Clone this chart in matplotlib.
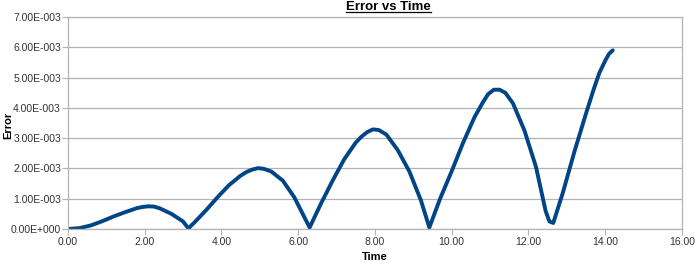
import matplotlib
matplotlib.use("Agg")
import matplotlib.pyplot as plt
from matplotlib.lines import Line2D
from matplotlib.ticker import FuncFormatter, MultipleLocator

plt.rcParams['font.family'] = ['Liberation Sans', 'DejaVu Sans']

# values (error in units of 1e-3)
time = [0.0, 0.3, 0.6, 0.9, 1.2, 1.5, 1.8, 1.95, 2.1, 2.25, 2.4, 2.7, 3.0, 3.14,
        3.3, 3.6, 3.9, 4.2, 4.5, 4.65, 4.8, 4.95, 5.1, 5.3, 5.6, 5.9, 6.3,
        6.6, 6.9, 7.2, 7.5, 7.65, 7.8, 7.95, 8.1, 8.3, 8.6, 8.9, 9.2, 9.42,
        9.7, 10.0, 10.3, 10.6, 10.8, 10.95, 11.1, 11.25, 11.4, 11.6, 11.9, 12.2, 12.45,
        12.55, 12.65, 12.9, 13.2, 13.5, 13.7, 13.85, 14.0, 14.1, 14.2]
error_e3 = [0.00, 0.03, 0.12, 0.26, 0.42, 0.56, 0.69, 0.73, 0.75, 0.74, 0.68, 0.50, 0.25, 0.02,
            0.22, 0.62, 1.05, 1.45, 1.76, 1.88, 1.96, 2.01, 1.99, 1.90, 1.60, 1.05, 0.05,
            0.85, 1.60, 2.30, 2.85, 3.05, 3.20, 3.29, 3.27, 3.12, 2.60, 1.90, 0.95, 0.05,
            1.00, 1.90, 2.85, 3.70, 4.15, 4.45, 4.60, 4.60, 4.50, 4.15, 3.25, 2.05, 0.60,
            0.25, 0.20, 1.20, 2.55, 3.80, 4.60, 5.15, 5.55, 5.78, 5.90]
error = [e * 1e-3 for e in error_e3]


def sci_fmt(v, pos):
    if v == 0:
        return "0.00E+000"
    s = f"{v:.2E}"
    mant, exp = s.split("E")
    sign = exp[0]
    return f"{mant}E{sign}{int(exp[1:]):03d}"


fig = plt.figure(figsize=(7, 2.66), dpi=100)
ax = fig.add_axes([0.097, 0.139, 0.877, 0.797])

ax.plot(time, error, color='#004586', lw=2.8, solid_joinstyle='round', solid_capstyle='round')

ax.set_xlim(0, 16)
ax.set_ylim(0, 7e-3)
ax.xaxis.set_major_locator(MultipleLocator(2))
ax.yaxis.set_major_locator(MultipleLocator(1e-3))
ax.xaxis.set_major_formatter(FuncFormatter(lambda v, p: f"{v:.2f}"))
ax.yaxis.set_major_formatter(FuncFormatter(sci_fmt))
ax.grid(axis='y', color='#b3b3b3', lw=0.9)
ax.set_axisbelow(True)
for s in ax.spines.values():
    s.set_color('#b3b3b3')
    s.set_linewidth(0.9)
ax.tick_params(axis='x', length=4, color='#b3b3b3', labelsize=7.5, labelcolor='#333333', pad=2)
ax.tick_params(axis='y', length=4, color='#b3b3b3', labelsize=7.5, labelcolor='#333333', pad=1)

ax.set_xlabel("Time", fontsize=8, fontweight='bold', labelpad=3)
fig.text(0.004, 0.53, "Error", rotation=90, ha='left', va='center',
         fontsize=8, fontweight='bold')
title = fig.text(0.555, 0.995, "Error vs Time", ha='center', va='top',
                 fontsize=9.5, fontweight='bold')

# underline the title like the spreadsheet does
fig.canvas.draw()
bb = title.get_window_extent().transformed(fig.transFigure.inverted())
fig.add_artist(Line2D([bb.x0, bb.x1], [bb.y0 + 0.004, bb.y0 + 0.004],
                      transform=fig.transFigure, color='black', lw=0.9))

fig.savefig("out.png", dpi=100)
